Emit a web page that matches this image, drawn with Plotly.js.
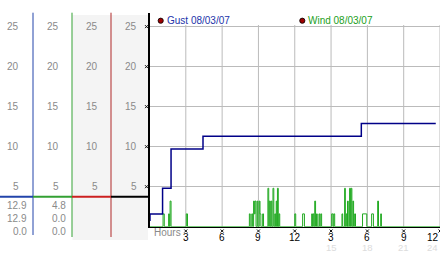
<!DOCTYPE html>
<html><head><meta charset="utf-8">
<script src="https://cdn.plot.ly/plotly-3.0.1.min.js"></script>
<style>html,body{margin:0;padding:0;background:#fff}#chart{width:442px;height:253px}</style>
</head><body><div id="chart"></div>
<script>
// ---- data ----
const seriesNames = ['Gust 08/03/07', 'Wind 08/03/07'];
const hourTicks = [3, 6, 9, 12, 15, 18, 21, 24];
const hourLabels = ['3', '6', '9', '12', '3', '6', '9', '12'];
const lateTicks = [15, 18, 21, 24];
const lateLabels = ['15', '18', '21', '24'];
const yTicks = [5, 10, 15, 20, 25];
const yLabels = ['5', '10', '15', '20', '25'];
const gustStats = ['12.9', '12.9', '0.0'];
const windStats = ['4.8', '0.0', '0.0'];

const gustHours  = [0.00, 0.04, 1.08, 1.78, 4.42, 17.50, 23.65];
const gustValues = [0.8,  1.6,  4.8,  9.7,  11.3, 12.9,  12.9];

const windHours = [0.00,
  1.12, 1.22, 1.58, 1.64, 1.70, 1.78, 3.04, 3.14,
  8.25, 8.32, 8.45, 8.52, 8.60, 8.66, 8.72, 8.80, 8.90, 8.96,
  9.07, 9.13, 9.20, 9.35, 9.42, 9.78, 9.85, 9.90, 9.98,
  10.05, 10.11, 10.20, 10.27, 10.35, 10.42, 10.47, 10.52, 10.57, 10.64, 10.70, 10.76,
  12.00, 12.08, 12.65, 12.80,
  13.40, 13.46, 13.52, 13.58, 13.65, 13.72, 13.80, 13.86, 14.00, 14.06, 14.15, 14.22,
  15.05, 15.15, 15.22, 15.30,
  15.90, 15.96, 16.12, 16.18, 16.26, 16.32, 16.36, 16.42, 16.53, 16.60, 16.66, 16.72,
  16.80, 16.86, 16.95, 17.02,
  17.60, 17.95, 18.35, 18.50, 18.85, 18.92, 19.10, 19.16,
  24.00];
const windValues = [0,
  1.6, 0, 1.6, 0, 3.2, 0, 1.6, 0,
  1.6, 0, 1.6, 0, 3.2, 1.6, 3.2, 0, 3.2, 0,
  3.2, 1.6, 0, 1.6, 0, 4.8, 0, 3.2, 0,
  3.2, 0, 4.8, 0, 1.6, 0, 3.2, 0, 4.8, 0, 1.6, 0,
  1.6, 0, 1.6, 0,
  1.6, 0, 1.6, 0, 3.2, 0, 1.6, 0, 1.6, 0, 1.6, 0,
  1.6, 0, 1.6, 0,
  1.6, 0, 4.8, 0, 1.6, 0, 3.2, 0, 4.8, 0, 4.8, 0,
  3.2, 0, 1.6, 0,
  1.6, 0, 1.6, 0, 3.2, 0, 1.6, 0,
  0];

// ---- layout helpers (pixels -> paper) ----
const W = 442, H = 253;
const px = x => x / W;
const py = y => 1 - y / H;
const FONT = 'Liberation Sans, Arial, sans-serif';
const GRAY = '#8a8a8a';

const shapes = [];
const annotations = [];

// left panels background
shapes.push({type:'rect', xref:'paper', yref:'paper', x0:px(72.5), x1:px(148), y0:py(240), y1:py(15), fillcolor:'#f4f4f4', line:{width:0}, layer:'below'});
// vertical coloured separators
const sepX = [33, 72, 111];
const sepColor = ['#2244aa', '#33a033', '#b02828'];
const sepBottom = [235, 237, 237];
sepX.forEach((x,i)=>shapes.push({type:'line', xref:'paper', yref:'paper', x0:px(x), x1:px(x), y0:py(sepBottom[i]), y1:py(12.7), line:{color:sepColor[i], width:1}}));
// horizontal coloured marker segments
const segX = [0, 33, 72, 111, 149];
const segColor = ['#2244aa', '#33a033', '#cc2020', '#000000'];
for (let i=0;i<4;i++) shapes.push({type:'line', xref:'paper', yref:'paper', x0:px(segX[i]), x1:px(segX[i+1]), y0:py(196.7), y1:py(196.7), line:{color:segColor[i], width:2}});
// vertical gridlines of main plot
hourTicks.forEach(h=>shapes.push({type:'line', xref:'x', yref:'y', x0:h, x1:h, y0:0, y1:25.2, line:{color:'#bbbbbb', width:1}, layer:'below'}));

// tiny cross glyphs: left of the y axis and above the hour labels
yTicks.forEach(v=>{
  shapes.push({type:'line', xref:'paper', yref:'y', xsizemode:'pixel', xanchor:px(146.5), x0:-1.5, x1:1.5, ysizemode:'pixel', yanchor:v, y0:-1.5, y1:1.5, line:{color:'#111', width:1}});
  shapes.push({type:'line', xref:'paper', yref:'y', xsizemode:'pixel', xanchor:px(146.5), x0:-1.5, x1:1.5, ysizemode:'pixel', yanchor:v, y0:1.5, y1:-1.5, line:{color:'#111', width:1}});
});
hourTicks.forEach(h=>{
  shapes.push({type:'line', xref:'x', yref:'paper', xsizemode:'pixel', xanchor:h, x0:-1.5, x1:1.5, ysizemode:'pixel', yanchor:py(231), y0:-1.5, y1:1.5, line:{color:'#111', width:1}});
  shapes.push({type:'line', xref:'x', yref:'paper', xsizemode:'pixel', xanchor:h, x0:-1.5, x1:1.5, ysizemode:'pixel', yanchor:py(231), y0:1.5, y1:-1.5, line:{color:'#111', width:1}});
});

// left panel y labels
const colRight = [20, 60, 99, 137.5];
colRight.forEach(r=>yTicks.forEach((v,i)=>annotations.push({xref:'paper', yref:'y', x:px(r), y:v, xanchor:'right', yanchor:'middle', text:yLabels[i], showarrow:false, font:{family:FONT, size:10, color:GRAY}, borderpad:0})));
// stats
const statY = [205, 218.3, 231.7];
gustStats.forEach((t,i)=>annotations.push({xref:'paper', yref:'paper', x:px(27.5), y:py(statY[i]), xanchor:'right', yanchor:'middle', text:t, showarrow:false, font:{family:FONT, size:10, color:GRAY}, borderpad:0}));
windStats.forEach((t,i)=>annotations.push({xref:'paper', yref:'paper', x:px(66.5), y:py(statY[i]), xanchor:'right', yanchor:'middle', text:t, showarrow:false, font:{family:FONT, size:10, color:GRAY}, borderpad:0}));

// legend
const legDotX = [160.7, 302.3];
const legTextX = [165.5, 307];
const legColor = ['#2233aa', '#22a022'];
seriesNames.forEach((n,i)=>{
  shapes.push({type:'circle', xref:'paper', yref:'paper', x0:px(legDotX[i]-2.6), x1:px(legDotX[i]+2.6), y0:py(23.3), y1:py(18.1), fillcolor:'#a00000', line:{color:'#000', width:0.8}});
  annotations.push({xref:'paper', yref:'paper', x:px(legTextX[i]), y:py(20.7), xanchor:'left', yanchor:'middle', text:n, showarrow:false, font:{family:FONT, size:10, color:legColor[i]}, borderpad:0});
});
// "Hours" label
annotations.push({xref:'paper', yref:'paper', x:px(152.5), y:py(232), xanchor:'left', yanchor:'middle', text:'Hours', showarrow:false, font:{family:FONT, size:10, color:GRAY}, borderpad:0});
// hour tick labels (black)
hourTicks.forEach((h,i)=>{
  const last = i === hourTicks.length-1;
  annotations.push({xref:'x', yref:'paper', x:h, y:py(237), xanchor:last?'right':'center', yanchor:'middle', text:hourLabels[i], showarrow:false, font:{family:FONT, size:10, color:'#000'}, borderpad:0});
});
// faint second row of hour labels
lateTicks.forEach((h,i)=>{
  const last = i === lateTicks.length-1;
  annotations.push({xref:'x', yref:'paper', x:h, xshift:last?-1.5:0, y:py(247), xanchor:last?'right':'center', yanchor:'middle', text:lateLabels[i], showarrow:false, font:{family:FONT, size:9.5, color:'#dcdcdc'}, borderpad:0});
});

const traces = [
  {x:windHours, y:windValues, type:'scatter', mode:'lines', line:{color:'#22aa22', width:1, shape:'hv'}, hoverinfo:'skip'},
  {x:gustHours, y:gustValues, type:'scatter', mode:'lines', line:{color:'#000088', width:1.5, shape:'hv'}, hoverinfo:'skip'}
];

const layout = {
  width: W, height: H,
  margin: {l:0, r:0, t:0, b:0},
  paper_bgcolor: '#fff', plot_bgcolor: '#fff',
  showlegend: false,
  xaxis: {domain:[px(149.5), px(440)], range:[0,24], tickvals:hourTicks, showticklabels:false, showgrid:false, zeroline:false, showline:true, linecolor:'#000', linewidth:1, ticks:'', fixedrange:true},
  yaxis: {domain:[py(226.7), py(13)], range:[0,26.7], tickvals:yTicks, showticklabels:false, showgrid:true, gridcolor:'#bbbbbb', gridwidth:1, zeroline:false, showline:true, linecolor:'#000', linewidth:2, ticks:'', fixedrange:true},
  shapes: shapes,
  annotations: annotations
};

Plotly.newPlot('chart', traces, layout, {displayModeBar:false, staticPlot:true});
</script>
</body></html>
